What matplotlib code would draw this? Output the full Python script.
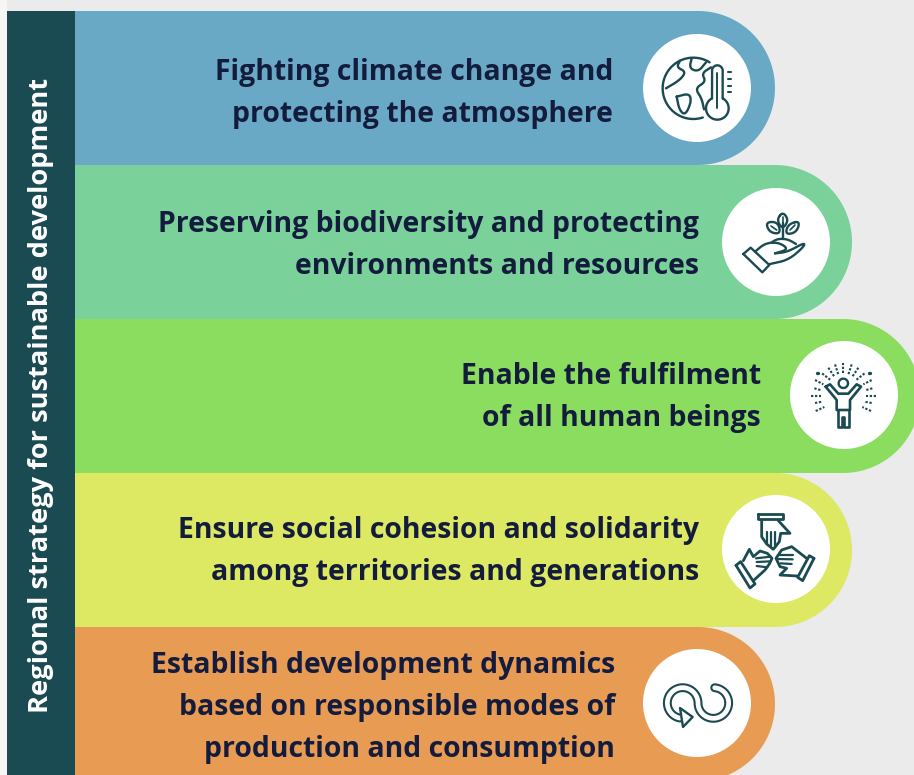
import numpy as np
import matplotlib
matplotlib.use("Agg")
import matplotlib.pyplot as plt
from matplotlib.patches import Rectangle, Circle, Polygon

# ---- content ----
side_title = "Regional strategy for sustainable development"
labels = [
    ["Fighting climate change and", "protecting the atmosphere"],
    ["Preserving biodiversity and protecting", "environments and resources"],
    ["Enable the fulfilment", "of all human beings"],
    ["Ensure social cohesion and solidarity", "among territories and generations"],
    ["Establish development dynamics", "based on responsible modes of", "production and consumption"],
]
band_colors = ["#6aa9c6", "#7ad199", "#8bdd5f", "#dde963", "#e89b53"]
band_right = [775, 852, 920, 852, 775]
band_top = [11, 165, 319, 473, 627]
text_right = [613, 699, 761, 699, 615]
text_baselines = [[80, 122], [232, 274], [384, 426], [538, 580], [673, 715, 757]]
icon_centers = [(697, 88), (776, 242), (844, 395), (776, 549), (697, 703)]
BAND_H = 154
ICON_R = 54
DARK = "#1a4a52"
INK = "#141c3e"
BG = "#ebebeb"

plt.rcParams["font.family"] = ["Open Sans", "DejaVu Sans"]
fig = plt.figure(figsize=(9.14, 7.75), dpi=100, facecolor=BG)
ax = fig.add_axes([0, 0, 1, 1])
ax.set_xlim(0, 914)
ax.set_ylim(775, 0)
ax.axis("off")

ax.add_patch(Rectangle((0, 0), 6.5, 775, fc="#f6f6f6", ec="none"))
ax.add_patch(Rectangle((7, 11), 68, 764, fc=DARK, ec="none", zorder=3))


def band_path(x0, top, right, h):
    r = h / 2
    cx = right - r
    th = np.linspace(-np.pi / 2, np.pi / 2, 80)
    xs = np.r_[x0, cx + r * np.cos(th), x0]
    ys = np.r_[top, top + r + r * np.sin(th), top + h]
    return np.c_[xs, ys]


for top, right, col in zip(band_top, band_right, band_colors):
    ax.add_patch(Polygon(band_path(75, top, right, BAND_H), closed=True, fc=col, ec="none", zorder=2))

for c in icon_centers:
    ax.add_patch(Circle(c, ICON_R, fc="white", ec="none", zorder=4))

for lines, xr, ys in zip(labels, text_right, text_baselines):
    for s, y in zip(lines, ys):
        ax.text(xr, y, s, ha="right", va="baseline", fontsize=20.45, fontweight="bold",
                color=INK, zorder=5)

ax.text(41, 395, side_title, rotation=90, ha="center", va="center", fontsize=19.65,
        fontweight="bold", color="white", zorder=5)


# ---- icon helpers (coordinates in a 360-unit local frame = 120 px) ----
def smooth(pts, n=3, closed=False):
    p = np.asarray(pts, float)
    for _ in range(n):
        if closed:
            q = np.roll(p, -1, axis=0)
            p = np.column_stack([0.75 * p + 0.25 * q, 0.25 * p + 0.75 * q]).reshape(-1, 2)
        else:
            a, b = p[:-1], p[1:]
            mid = np.column_stack([0.75 * a + 0.25 * b, 0.25 * a + 0.75 * b]).reshape(-1, 2)
            p = np.vstack([p[0], mid, p[-1]])
    return p


def make_stroke(origin):
    ox, oy = origin

    def stroke(pts, lw=1.7, closed=False, curved=False, color=DARK, ls="-", z=6):
        p = np.asarray(pts, float)
        if curved:
            p = smooth(p, closed=closed)
        if closed:
            p = np.vstack([p, p[0]])
        ax.plot(ox + p[:, 0] / 3, oy + p[:, 1] / 3, color=color, lw=lw, ls=ls, zorder=z,
                solid_capstyle="round", solid_joinstyle="round")
    return stroke


def arc(cx, cy, r, a0, a1, n=80):
    t = np.radians(np.linspace(a0, a1, n))
    return np.c_[cx + r * np.cos(t), cy + r * np.sin(t)]


# icon 1 : globe + thermometer
s = make_stroke((630, 30))
s(arc(190, 175, 92, -58, -288))
s([(150, 92), (140, 112), (168, 125), (150, 150), (108, 175)], curved=True)
s([(185, 85), (178, 115), (205, 125), (228, 97)], curved=True)
s([(243, 112), (215, 130), (228, 155), (195, 175), (215, 205), (222, 238)], curved=True)
s([(140, 200), (178, 190), (184, 215), (166, 256), (148, 240), (140, 200)], curved=True)
s(np.vstack([[(246, 205)], [(246, 122)], arc(262, 122, 16, 180, 360), [(278, 205)],
             arc(262, 235, 34, -62, 242)]))
s([(262, 130), (262, 235)], lw=1.4)
for yy in (127, 147, 167, 187):
    s([(293, yy), (304, yy)], lw=1.5)

# icon 2 : hand with sprout
s = make_stroke((710, 180))
s([(100, 222), (122, 203), (178, 255), (157, 277)], closed=True)
s([(135, 215), (165, 190), (200, 187), (225, 198), (230, 210), (195, 220)], curved=True)
s([(195, 220), (232, 216), (285, 187), (280, 202), (235, 240), (180, 252)], curved=True)
s([(185, 187), (200, 178), (218, 176), (238, 180), (258, 192)], curved=True)
s([(218, 130), (218, 178)])
s([(218, 95), (200, 120), (218, 148), (236, 120)], closed=True, curved=True)
s([(167, 126), (204, 126), (212, 162), (178, 157)], closed=True, curved=True)
s([(270, 122), (234, 133), (226, 164), (260, 157)], closed=True, curved=True)
s([(218, 112), (218, 130)], lw=1.2)
s([(183, 138), (200, 150)], lw=1.2)
s([(255, 135), (240, 150)], lw=1.2)

# icon 3 : person with rays
s = make_stroke((785, 335))
s(arc(175, 145, 14, 0, 360))
s([(122, 155), (135, 148), (160, 176), (190, 176), (215, 148), (228, 155),
   (195, 195), (195, 225), (155, 225), (155, 195)], closed=True, lw=1.9)
s([(158, 225), (158, 275), (172, 275), (172, 245), (178, 245), (178, 275), (192, 275), (192, 225)], lw=1.9)
dash = (0, (1.1, 0.8))
for ang in (-90, -72, -108, -56, -124, -38, -142):
    s(np.c_[175 + np.array([50, 82]) * np.cos(np.radians(ang)),
            165 + np.array([50, 82]) * np.sin(np.radians(ang))], lw=1.5, ls=dash)
for y0, y1, xa, xb in [(135, 148, 90, 115), (160, 166, 88, 110), (182, 182, 78, 108),
                       (204, 200, 90, 112), (228, 216, 92, 118)]:
    s([(xa, y0), (xb, y1)], lw=1.5, ls=dash)
    s([(350 - xa, y0), (350 - xb, y1)], lw=1.5, ls=dash)
for p in [(97, 113), (253, 113), (131, 198), (218, 198)]:
    s([p, (p[0] + 1, p[1])], lw=2.4)

# icon 4 : three hands
s = make_stroke((710, 490))
s([(143, 72), (218, 72), (218, 88), (143, 88)], closed=True, lw=2)
s([(155, 90), (155, 140), (170, 162), (190, 178), (208, 155), (212, 130), (240, 130), (205, 92)], lw=2)
s([(170, 125), (170, 160)], lw=1.6)
s([(182, 125), (182, 172)], lw=1.6)
s([(195, 125), (195, 170)], lw=1.6)
s([(78, 226), (92, 215), (135, 282), (120, 294)], closed=True, lw=2)
s([(100, 212), (118, 178), (130, 200), (150, 183), (172, 190), (186, 205), (178, 222), (165, 240), (130, 272)], lw=2)
s([(138, 205), (182, 200)], lw=1.6)
s([(140, 216), (182, 214)], lw=1.6)
s([(140, 228), (172, 232)], lw=1.6)
s([(312, 205), (298, 197), (263, 262), (278, 272)], closed=True, lw=2)
s([(290, 205), (245, 170), (215, 180), (198, 205), (210, 230), (230, 235), (210, 255), (262, 258)], lw=2)
s([(205, 195), (250, 195)], lw=1.6)
s([(203, 207), (248, 208)], lw=1.6)
s([(212, 220), (245, 222)], lw=1.6)

# icon 5 : looping arrow
s = make_stroke((630, 645))
ribbon = np.vstack([arc(158, 174, 46, 100, 360), arc(250, 174, 46, 180, -85)])
s(ribbon, lw=6.4)
s(ribbon, lw=3.4, color="white", z=7)
ax.add_patch(Polygon(np.c_[630 + np.array([150, 188, 159]) / 3, 645 + np.array([189, 216, 246]) / 3],
                     closed=True, fc="white", ec=DARK, lw=1.7, joinstyle="round", zorder=8))

fig.savefig("out.png", dpi=100, facecolor=BG)
